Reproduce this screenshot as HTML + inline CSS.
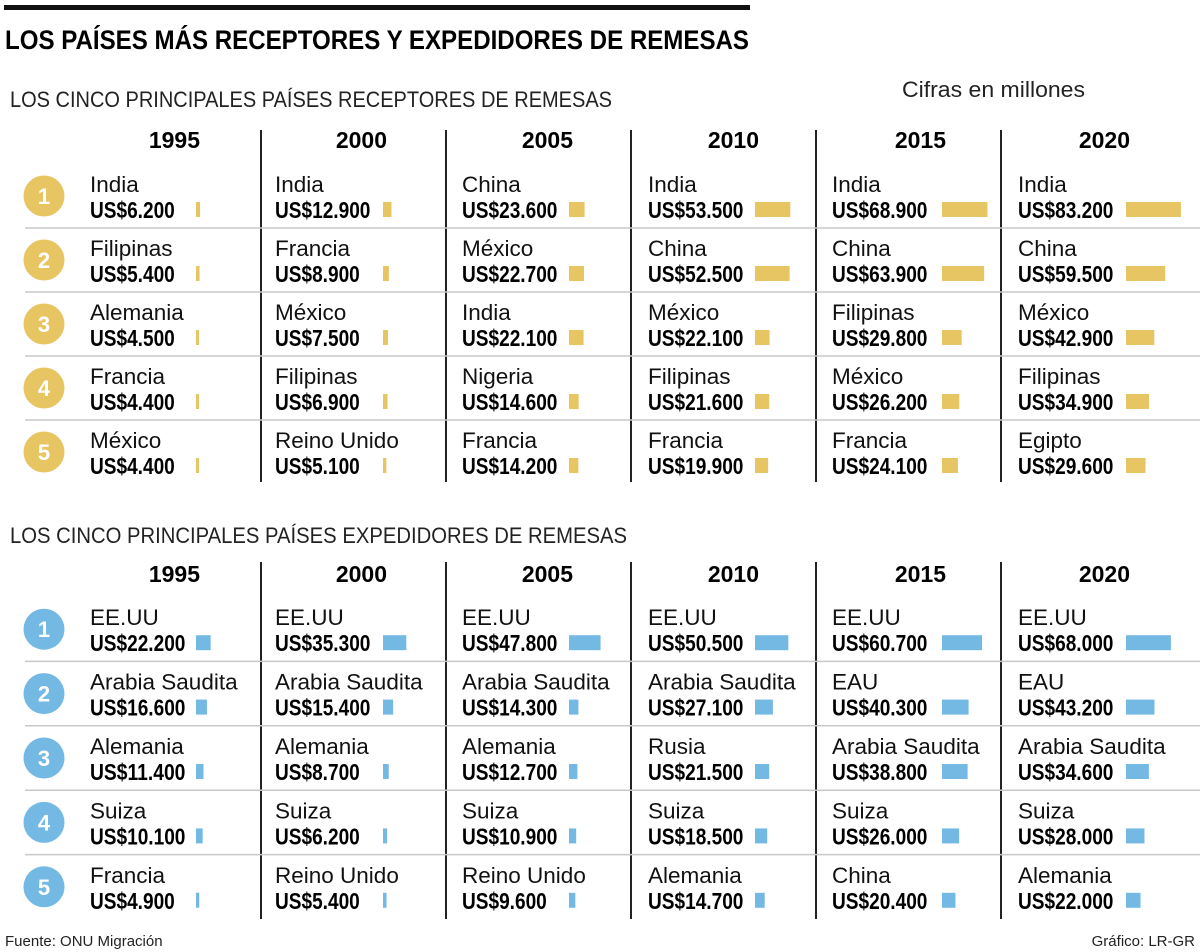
<!DOCTYPE html>
<html><head><meta charset="utf-8">
<style>
html,body{margin:0;padding:0;background:#fff;}
svg{display:block;font-family:"Liberation Sans",sans-serif;}
.nm{font-size:22.5px;fill:#111;}
.val{font-weight:bold;font-size:23px;fill:#000;}
.yr{font-weight:bold;font-size:23px;fill:#000;}
</style></head>
<body>
<svg id="chart" width="1200" height="952" viewBox="0 0 1200 952" xmlns="http://www.w3.org/2000/svg">
<rect x="4" y="5" width="746" height="5" fill="#111"/>
<text x="5" y="49" font-size="27" font-weight="bold" textLength="744" lengthAdjust="spacingAndGlyphs">LOS PAÍSES MÁS RECEPTORES Y EXPEDIDORES DE REMESAS</text>
<text x="10" y="107" font-size="22" fill="#222" textLength="602" lengthAdjust="spacingAndGlyphs">LOS CINCO PRINCIPALES PAÍSES RECEPTORES DE REMESAS</text>
<text x="902" y="97" font-size="22" fill="#222" textLength="183" lengthAdjust="spacingAndGlyphs">Cifras en millones</text>
<text x="10" y="543" font-size="22" fill="#222" textLength="617" lengthAdjust="spacingAndGlyphs">LOS CINCO PRINCIPALES PAÍSES EXPEDIDORES DE REMESAS</text>
<text x="5" y="946" font-size="15" fill="#222">Fuente: ONU Migración</text>
<text x="1195" y="946" font-size="15" fill="#222" text-anchor="end">Gráfico: LR-GR</text>
<g id="content"></g>
</svg>
<script>
const years = ["1995","2000","2005","2010","2015","2020"];
const recvNames = [
 ["India","Filipinas","Alemania","Francia","México"],
 ["India","Francia","México","Filipinas","Reino Unido"],
 ["China","México","India","Nigeria","Francia"],
 ["India","China","México","Filipinas","Francia"],
 ["India","China","Filipinas","México","Francia"],
 ["India","China","México","Filipinas","Egipto"]
];
const recvValues = [
 [6200,5400,4500,4400,4400],
 [12900,8900,7500,6900,5100],
 [23600,22700,22100,14600,14200],
 [53500,52500,22100,21600,19900],
 [68900,63900,29800,26200,24100],
 [83200,59500,42900,34900,29600]
];
const sendNames = [
 ["EE.UU","Arabia Saudita","Alemania","Suiza","Francia"],
 ["EE.UU","Arabia Saudita","Alemania","Suiza","Reino Unido"],
 ["EE.UU","Arabia Saudita","Alemania","Suiza","Reino Unido"],
 ["EE.UU","Arabia Saudita","Rusia","Suiza","Alemania"],
 ["EE.UU","EAU","Arabia Saudita","Suiza","China"],
 ["EE.UU","EAU","Arabia Saudita","Suiza","Alemania"]
];
const sendValues = [
 [22200,16600,11400,10100,4900],
 [35300,15400,8700,6200,5400],
 [47800,14300,12700,10900,9600],
 [50500,27100,21500,18500,14700],
 [60700,40300,38800,26000,20400],
 [68000,43200,34600,28000,22000]
];

const NS="http://www.w3.org/2000/svg";
const root=document.getElementById('content');
const colNameX=[90,275,462,648,832,1018];
const barX=[196,383,569,755,942,1126];
const dividers=[261,446,631,816,1001];
const scale=v=>Math.max(3,v*0.00066);
function mk(tag,attrs,parent){const e=document.createElementNS(NS,tag);for(const k in attrs)e.setAttribute(k,attrs[k]);(parent||root).appendChild(e);return e;}
function fmt(v){return "US$"+v.toLocaleString('de-DE');}

function section(key,names,values,color,yearY,rowTop,rowH,lineTop,lineBot){
  const g=mk('g',{});
  
  
  years.forEach((y,i)=>{
    const t=mk('text',{x:barX[i]+4,y:yearY,'text-anchor':'end',class:'yr'},g);
    t.textContent=y;
    
    
  });
  dividers.forEach((x,i)=>{
    const l=mk('line',{x1:x,x2:x,y1:lineTop,y2:lineBot,stroke:'#222','stroke-width':2},g);
    
    
  });
  for(let r=1;r<5;r++){
    const y=rowTop+r*rowH;
    const l=mk('line',{x1:25,x2:1200,y1:y,y2:y,stroke:'#c8c8c8','stroke-width':1.5},g);
    
    
  }
  for(let r=0;r<5;r++){
    const cy=rowTop+r*rowH+rowH/2;
    const c=mk('circle',{cx:44,cy:cy,r:20.5,fill:color},g);
    
    
    const t=mk('text',{x:44,y:cy+8,'text-anchor':'middle','font-size':22,'font-weight':'bold',fill:'#fff'},g);
    t.textContent=r+1;
    
    
    years.forEach((yr,i)=>{
      const n=mk('text',{x:colNameX[i],y:cy-4,class:'nm'},g);
      n.textContent=names[i][r];
      
      
      const s=fmt(values[i][r]);
      const v=mk('text',{x:colNameX[i],y:cy+22,class:'val',textLength:(s.length*10.6).toFixed(1),lengthAdjust:'spacingAndGlyphs'},g);
      v.textContent=s;
      
      
      const b=mk('rect',{x:barX[i],y:cy+6,width:scale(values[i][r]),height:15,fill:color},g);
      
      
    });
  }
}
section('receivers',recvNames,recvValues,'#e8c563',148,164,64,130,482);
section('senders',sendNames,sendValues,'#74b9e4',582,597,64.4,562,919);
</script>
</body></html>
